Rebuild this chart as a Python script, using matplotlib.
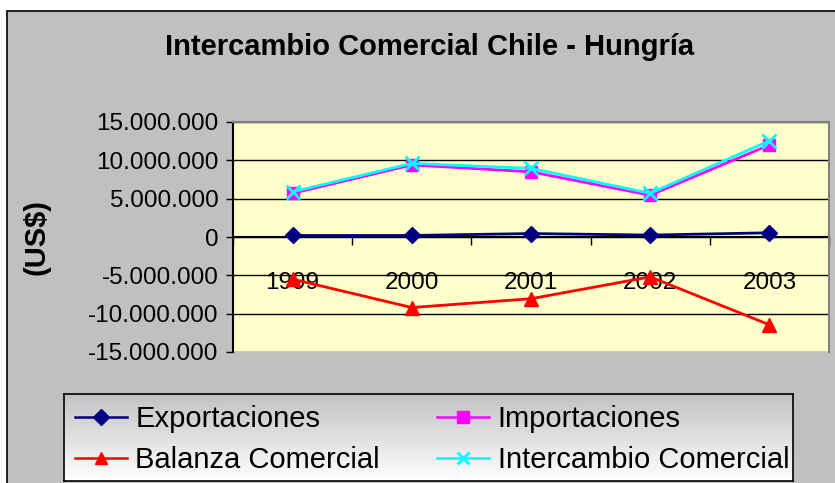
import numpy as np
import matplotlib.pyplot as plt
from matplotlib.patches import Rectangle

plt.rcParams['font.family'] = ['Liberation Sans', 'DejaVu Sans']

# values (US$)
years = ['1999', '2000', '2001', '2002', '2003']
exportaciones = [200000, 200000, 450000, 250000, 550000]
importaciones = [5700000, 9400000, 8500000, 5450000, 12000000]
balanza = [-5500000, -9200000, -8050000, -5200000, -11450000]
intercambio = [5900000, 9600000, 8950000, 5700000, 12550000]
yticks = np.arange(-15000000, 15000001, 5000000)

W, H = 835, 483
fig = plt.figure(figsize=(W / 100, H / 100), dpi=100)
fig.patch.set_facecolor('white')

# grey chart area with black border
fig.patches.append(Rectangle((7 / W, -0.05), 1.1, 1 - 11 / H + 0.05,
                             transform=fig.transFigure, facecolor='#c0c0c0',
                             edgecolor='black', linewidth=1.2, zorder=-10))

ax = fig.add_axes([233 / W, 1 - 352 / H, (829 - 233) / W, (352 - 122) / H])
ax.set_facecolor('#ffffcc')

x = np.arange(len(years))
ax.plot(x, exportaciones, color='#000080', marker='D', markersize=8, lw=2,
        label='Exportaciones', zorder=3)
ax.plot(x, importaciones, color='#ff00ff', marker='s', markersize=9, lw=2,
        label='Importaciones', zorder=3)
ax.plot(x, balanza, color='#ff0000', marker='^', markersize=10, lw=2,
        label='Balanza Comercial', zorder=3)
ax.plot(x, intercambio, color='#00ffff', marker='x', markersize=10, lw=2,
        mew=2, label='Intercambio Comercial', zorder=4)

ax.set_xlim(-0.5, len(years) - 0.5)
ax.set_ylim(-15000000, 15000000)
ax.set_yticks(yticks)
ax.set_yticklabels(['{:,}'.format(v).replace(',', '.') for v in yticks], fontsize=17.5)
ax.yaxis.grid(True, color='black', lw=1)
ax.set_axisbelow(True)
ax.tick_params(axis='y', direction='out', length=5, width=1, pad=5.5)

# category axis crossing at zero
ax.spines['bottom'].set_position(('data', 0))
ax.spines['bottom'].set_color('black')
ax.spines['bottom'].set_zorder(2)
ax.set_xticks(x)
ax.set_xticklabels(years, fontsize=17.5)
ax.set_xticks(np.arange(-0.5, len(years)), minor=True)
ax.tick_params(axis='x', which='major', length=0, pad=25)
ax.tick_params(axis='x', which='minor', direction='out', length=6, width=1)

ax.spines['top'].set_color('#808080')
ax.spines['right'].set_color('#808080')
ax.spines['left'].set_color('black')
for s in ax.spines.values():
    s.set_linewidth(1.5)

fig.text(430 / W, 1 - 47 / H, 'Intercambio Comercial Chile - Hungría',
         ha='center', va='center', fontsize=21, fontweight='bold')
fig.text(37 / W, 1 - 237 / H, '(US$)', rotation=90, ha='center', va='center',
         fontsize=21, fontweight='bold')

# legend box with grey-to-white gradient
lx0, ly0, lx1, ly1 = 64, 394, 793, 481
lax = fig.add_axes([lx0 / W, 1 - ly1 / H, (lx1 - lx0) / W, (ly1 - ly0) / H])
grad = np.linspace(0, 1, 256).reshape(-1, 1)
lax.imshow(grad, cmap=plt.matplotlib.colors.LinearSegmentedColormap.from_list(
    'g', ['#c2c2c2', '#ffffff']), aspect='auto', extent=[0, 1, 0, 1], origin='upper')
lax.set_xticks([])
lax.set_yticks([])
for s in lax.spines.values():
    s.set_color('black')
    s.set_linewidth(1.2)

h, l = ax.get_legend_handles_labels()
order = [0, 2, 1, 3]
leg = lax.legend([h[i] for i in order], [l[i] for i in order],
                 loc='upper left', bbox_to_anchor=(0, 1),
                 ncol=2, fontsize=21, frameon=False,
                 handlelength=1.8, handletextpad=0.28, columnspacing=1.95,
                 labelspacing=0.45, borderpad=0.2, borderaxespad=0.17)
for lh in leg.legend_handles:
    lh.set_linewidth(1.8)
    lh.set_markersize(8)

fig.savefig('out.png', dpi=100)
